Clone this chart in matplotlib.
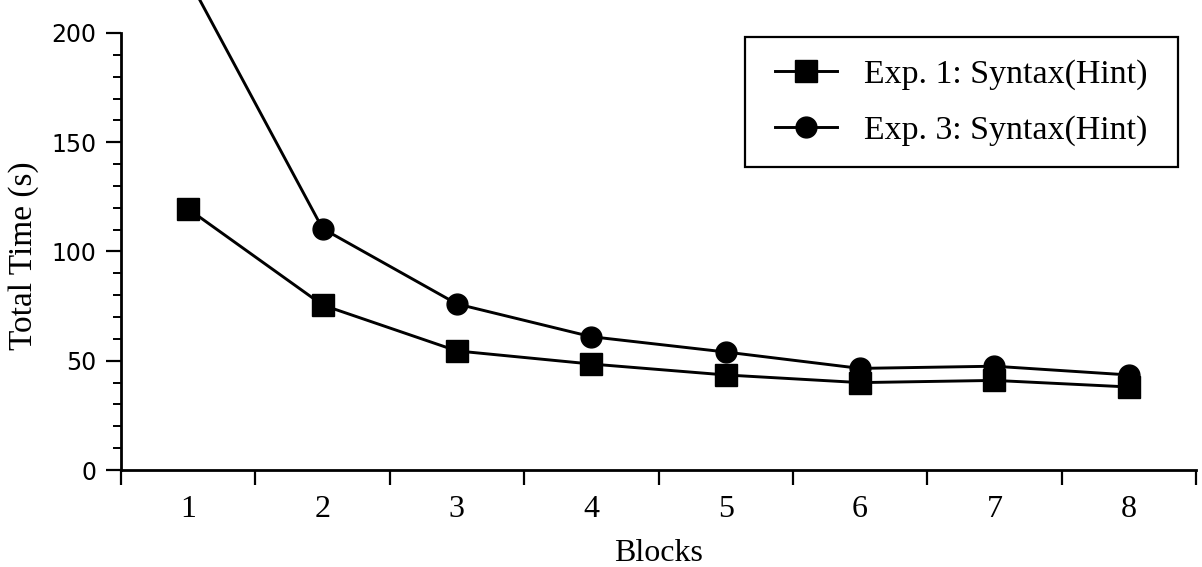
import matplotlib
matplotlib.use("Agg")
import matplotlib.pyplot as plt
from matplotlib.path import Path
from matplotlib.ticker import FixedLocator, NullFormatter

# Data: total time per block for the two experiments
blocks = [1, 2, 3, 4, 5, 6, 7, 8]
exp1_times = [119.5, 75.5, 54.5, 48.5, 43.5, 40.0, 41.0, 38.0]
exp3_times = [225.0, 110.5, 76.0, 61.0, 54.0, 46.5, 47.5, 43.5]
series_labels = ["Exp. 1: Syntax(Hint)", "Exp. 3: Syntax(Hint)"]
y_major = [0, 50, 100, 150, 200]

SERIF = ["Liberation Serif", "DejaVu Serif"]
SANS = ["DejaVu Sans"]

fig = plt.figure(figsize=(12.02, 5.67), dpi=100)
W, H = 1202, 567
left, right, bottom_px, top_px = 121, 1196, 470, 0
ax = fig.add_axes([left / W, (H - bottom_px) / H, (right - left) / W, (bottom_px - top_px) / H])

line_kw = dict(color="black", lw=2.1, markeredgecolor="black", markerfacecolor="black")
ax.plot(blocks, exp1_times, marker="s", ms=15.5, label=series_labels[0], **line_kw)
ax.plot(blocks, exp3_times, marker="o", ms=15, label=series_labels[1], **line_kw)

# Axes limits: y axis spine ends at 200, curve continues above
ax.set_xlim(0.5, 8.5)
ax.set_ylim(0, 200 + 15.1)

for s in ["top", "right"]:
    ax.spines[s].set_visible(False)
for s in ["left", "bottom"]:
    ax.spines[s].set_linewidth(2.0)
ax.spines["left"].set_bounds(0, 200)

# Y ticks: labelled majors every 50, minors every 10
ax.yaxis.set_major_locator(FixedLocator(y_major))
ax.yaxis.set_minor_locator(FixedLocator([v for v in range(0, 201, 10) if v % 50]))
ax.tick_params(axis="y", which="major", direction="out", length=10.5, width=1.6, pad=7)
ax.tick_params(axis="y", which="minor", direction="out", length=5.5, width=1.4)
for t in ax.get_yticklabels():
    t.set_fontfamily(SANS)
    t.set_fontsize(17)

# X ticks: block labels at centres, tick marks between blocks
ax.xaxis.set_major_locator(FixedLocator(blocks))
ax.set_xticklabels([str(b) for b in blocks])
ax.xaxis.set_minor_locator(FixedLocator([b - 0.5 for b in blocks] + [8.5]))
ax.xaxis.set_minor_formatter(NullFormatter())
ax.tick_params(axis="x", which="major", length=0, pad=18)
ax.tick_params(axis="x", which="minor", direction="out", length=10.5, width=1.6)
for t in ax.get_xticklabels():
    t.set_fontfamily(SERIF)
    t.set_fontsize(23)

ax.set_xlabel("Blocks", fontfamily=SERIF, fontsize=23, labelpad=10.5)
ax.set_ylabel("Total Time (s)", fontfamily=SERIF, fontsize=24, labelpad=9, y=0.455)


def wide_square(x0, y0, width, height, mutation_size):
    """Square frame with extra horizontal padding."""
    padx = 0.25 * mutation_size
    xa, xb = x0 - padx, x0 + width + padx
    ya, yb = y0, y0 + height
    return Path([(xa, ya), (xb, ya), (xb, yb), (xa, yb), (xa, ya)], closed=True)


leg = ax.legend(loc="upper right", bbox_to_anchor=(0.9755, 0.921), borderaxespad=0,
                prop={"family": SERIF, "size": 24.4}, frameon=True, fancybox=False,
                edgecolor="black", framealpha=1, handlelength=1.85, handletextpad=0.8,
                labelspacing=0.74, borderpad=0.64)
leg.get_frame().set_linewidth(1.6)
leg.get_frame().set_boxstyle(wide_square)

fig.savefig("out.png", dpi=100)
